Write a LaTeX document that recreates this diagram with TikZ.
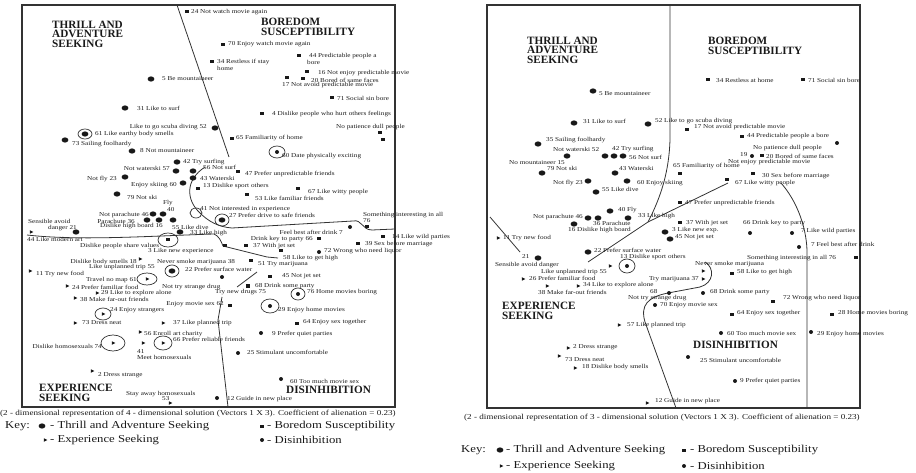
\documentclass[tikz,border=0pt]{standalone}
\usepackage{fontspec}
\setmainfont{Liberation Serif}
\usetikzlibrary{shapes.geometric}
% marker and label helpers
\newcommand{\pmark}[3]{\node[#1] (#2) at (#3) {};}
\newcommand{\tlab}[5][lbl]{\node[#1,anchor=#4] (#2) at (#3) {\scalebox{1.2}[1]{#5}};}
\begin{document}
\begin{tikzpicture}[x=1pt,y=-1pt,
  tas/.style={ellipse, fill=black!90, minimum width=6.8pt, minimum height=5.2pt, inner sep=0pt},
  bs/.style={rectangle, fill=black!90, minimum width=4pt, minimum height=3pt, inner sep=0pt},
  es/.style={isosceles triangle, isosceles triangle apex angle=70, isosceles triangle stretches, fill=black!90, minimum height=3.5pt, minimum width=3.5pt, inner sep=0pt},
  dis/.style={circle, fill=black!90, minimum size=4pt, inner sep=0pt},
  lbl/.style={font=\fontsize{6}{6}\selectfont, inner sep=0pt, text=black!90},
  captxt/.style={font=\fontsize{7.6}{8}\selectfont, inner sep=0pt, text=black!90},
  keyl/.style={font=\fontsize{10.6}{12}\selectfont, inner sep=0pt, text=black!90},
  head/.style={font=\fontsize{11.2}{9.4}\selectfont\bfseries, align=left, inner sep=0pt, anchor=north west, text=black!90},
  panelframe/.style={line width=1.2pt, draw=black!80},
  bound/.style={line width=0.8pt, draw=black!80},
  ring/.style={line width=0.7pt, draw=black!80}]
\useasboundingbox (0,0) rectangle (916,473);

%% ================= left panel: 4-dimensional solution =================
\draw[panelframe] (22,5) rectangle (395,407);
\node[head] (LhTAS) at (52,21) {THRILL AND\\ADVENTURE\\SEEKING};
\node[head] (LhBS) at (261,18) {BOREDOM\\SUSCEPTIBILITY};
\node[head] (LhES) at (39,384) {EXPERIENCE\\SEEKING};
\node[head] (LhDis) at (286,386) {DISINHIBITION};

% region boundaries
\draw[bound] (177,5) -- (229,157);
\draw[bound] (205,167) .. controls (185,180) and (186,200) .. (200,213)
  .. controls (208,221) and (218,227) .. (232,228) -- (353,221)
  .. controls (362,219) and (362,230) .. (372,230) -- (395,229);
\draw[bound] (27,235) .. controls (80,241) and (150,236) .. (214,234)
  .. controls (219,236) and (221,241) .. (223,246) -- (267,257) -- (278,258);
\draw[bound] (237,287) -- (257,272);
\draw[bound] (222,297) -- (218,320) -- (228,407);

% items
\pmark{bs}{La1}{187,12} \tlab{Lt1}{191,12}{west}{24 Not watch movie again}
\pmark{bs}{La2}{223,45} \tlab{Lt2}{228,44}{west}{70 Enjoy watch movie again}
\pmark{bs}{La3}{212,62} \tlab{Lt3}{217,62}{west}{34 Restless if stay} \tlab{Lt3b}{217,68}{west}{home}
\pmark{bs}{La4}{299,56} \tlab{Lt4}{309,56}{west}{44 Predictable people a} \tlab{Lt4b}{307,62}{west}{bore}
\pmark{tas}{La5}{151,79} \tlab{Lt5}{162,79}{west}{5 Be mountaineer}
\pmark{bs}{La6}{307,72} \tlab{Lt6}{318,73}{west}{16 Not enjoy predictable movie}
\pmark{bs}{La7}{287,78} \pmark{bs}{La8}{303,79} \tlab{Lt8}{311,80}{west}{20 Bored of same faces}
\tlab{Lt7}{282,85}{west}{17 Not avoid predictable movie}
\pmark{bs}{La9}{332,98} \tlab{Lt9}{337,98}{west}{71 Social sin bore}
\pmark{tas}{La10}{125,108} \tlab{Lt10}{137,108}{west}{31 Like to surf}
\pmark{bs}{La11}{262,114} \tlab{Lt11}{272,114}{west}{4 Dislike people who hurt others feelings}
\tlab{Lt12}{207,127}{east}{Like to go scuba diving 52} \pmark{tas}{La12}{215,128}
\tlab{Lt13}{336,127}{west}{No patience dull people} \pmark{bs}{La13}{380,133} \pmark{bs}{La14}{383,140}
\pmark{tas}{La15}{85,134} \draw[ring] (La15) ellipse [x radius=7pt, y radius=5pt];
\tlab{Lt15}{95,134}{west}{61 Like earthy body smells}
\pmark{tas}{La16}{65,140} \tlab{Lt16}{72,144}{west}{73 Sailing foolhardy}
\pmark{bs}{La17}{232,139} \tlab{Lt17}{236,138}{west}{65 Familiarity of home}
\pmark{tas}{La18}{132,151} \tlab{Lt18}{140,151}{west}{8 Not mountaineer}
\pmark{dis}{La19}{277,152} \draw[ring] (La19) ellipse [x radius=8pt, y radius=6pt];
\tlab{Lt19}{282,156}{west}{60 Date physically exciting}
\pmark{tas}{La20}{177,162} \tlab{Lt20}{183,162}{west}{42 Try surfing}
\tlab{Lt21}{170,168}{east}{Not waterski 57} \pmark{tas}{La21}{176,171} \pmark{tas}{La22}{193,171}
\tlab{Lt22}{203,167}{west}{56 Not surf}
\tlab{Lt23}{117,179}{east}{Not fly 23} \pmark{tas}{La23}{125,177}
\pmark{tas}{La24}{193,178} \tlab{Lt24}{200,178}{west}{43 Waterski}
\tlab{Lt25}{177,185}{east}{Enjoy skiing 60} \pmark{tas}{La25}{183,183}
\pmark{bs}{La26}{198,189} \tlab{Lt26}{203,186}{west}{13 Dislike sport others}
\pmark{bs}{La27}{238,172} \tlab{Lt27}{245,174}{west}{47 Prefer unpredictable friends}
\pmark{bs}{La28}{298,189} \tlab{Lt28}{308,192}{west}{67 Like witty people}
\pmark{bs}{La29}{247,195} \tlab{Lt29}{255,198}{west}{53 Like familiar friends}
\pmark{tas}{La30}{117,194} \tlab{Lt30}{127,197}{west}{79 Not ski}
\tlab{Lt31}{163,203}{west}{Fly} \tlab{Lt31b}{167,210}{west}{40}
\pmark{tas}{La31}{153,214} \pmark{tas}{La32}{163,214} \pmark{tas}{La33}{147,220}
\pmark{tas}{La34}{159,220} \pmark{tas}{La35}{173,220}
\tlab{Lt32}{149,215}{east}{Not parachute 46}
\tlab{Lt33}{135,221}{east}{Parachute 36}
\tlab{Lt34}{163,226}{east}{Dislike high board 16}
\tlab{Lt35}{172,227}{west}{55 Like dive}
\pmark{tas}{La36}{180,232} \tlab{Lt36}{190,233}{west}{33 Like high}
\pmark{bs}{La37}{168,240} \draw[ring] (La37) ellipse [x radius=10pt, y radius=7pt];
\tlab{Lt37}{28,221}{west}{Sensible avoid} \tlab{Lt37b}{48,228}{west}{danger 21}
\pmark{es}{La38}{31,232} \pmark{tas}{La39}{76,232}
\tlab{Lt39}{27,239}{west}{44 Like modern art}
\tlab{Lt40}{80,246}{west}{Dislike people share values}
\tlab{Lt41}{148,251}{west}{3 Like new experience}
\tlab{Lt42}{200,209}{west}{41 Not interested in experience}
\draw[ring] (196,213) ellipse [x radius=6pt, y radius=5pt];
\pmark{tas}{La43}{222,220} \draw[ring] (La43) ellipse [x radius=7pt, y radius=6pt];
\tlab{Lt43}{229,215}{west}{27 Prefer drive to safe friends}
\tlab{Lt44}{363,215}{west}{Something interesting in all} \tlab{Lt44b}{363,221}{west}{76}
\pmark{bs}{La44}{367,227}
\tlab{Lt45}{343,232}{east}{Feel best after drink 7} \pmark{dis}{La45}{350,227}
\tlab{Lt46}{313,239}{east}{Drink key to party 66} \pmark{bs}{La46}{319,239}
\pmark{bs}{La47}{383,237} \tlab{Lt47}{392,237}{west}{14 Like wild parties}
\pmark{bs}{La48}{246,246} \tlab{Lt48}{253,246}{west}{37 With jet set} \pmark{bs}{La48b}{225,246}
\pmark{bs}{La49}{358,244} \tlab{Lt49}{365,244}{west}{39 Sex before marriage}
\pmark{bs}{La50}{281,251} \tlab{Lt50}{283,258}{west}{58 Like to get high}
\pmark{dis}{La51}{319,252} \tlab{Lt51}{324,251}{west}{72 Wrong who need liquor}
\tlab{Lt52}{137,262}{east}{Dislike body smells 18} \pmark{es}{La52}{140,259}
\tlab{Lt53}{157,262}{west}{Never smoke marijuana 38}
\pmark{bs}{La54}{251,261} \tlab{Lt54}{258,264}{west}{51 Try marijuana}
\tlab{Lt55}{155,267}{east}{Like unplanned trip 55} \pmark{tas}{La55}{172,271}
\draw[ring] (La55) ellipse [x radius=7pt, y radius=6pt];
\tlab{Lt56}{185,269}{west}{22 Prefer surface water}
\pmark{es}{La57}{30,271} \tlab{Lt57}{36,274}{west}{11 Try new food}
\tlab{Lt58}{137,280}{east}{Travel no map 61} \pmark{es}{La58}{147,279}
\draw[ring] (La58) ellipse [x radius=10pt, y radius=6pt];
\pmark{es}{La59}{67,286} \tlab{Lt59}{72,287}{west}{24 Prefer familiar food}
\pmark{es}{La60}{97,293} \tlab{Lt60}{101,293}{west}{29 Like to explore alone}
\pmark{es}{La61}{75,298} \tlab{Lt61}{80,299}{west}{38 Make far-out friends}
\tlab{Lt62}{162,287}{west}{Not try strange drug}
\pmark{dis}{La63}{222,277}
\pmark{bs}{La64}{270,277} \tlab{Lt64}{282,276}{west}{45 Not jet set}
\pmark{bs}{La65}{248,286} \tlab{Lt65}{255,286}{west}{68 Drink some party}
\tlab{Lt66}{215,292}{west}{Try new drugs 75}
\pmark{dis}{La67}{298,294} \draw[ring] (La67) ellipse [x radius=7pt, y radius=6pt];
\tlab{Lt67}{307,292}{west}{76 Home movies boring}
\tlab{Lt68}{224,304}{east}{Enjoy movie sex 62} \pmark{bs}{La68}{230,305}
\pmark{dis}{La69}{270,306} \draw[ring] (La69) ellipse [x radius=9pt, y radius=7pt];
\tlab{Lt69}{278,310}{west}{29 Enjoy home movies}
\pmark{bs}{La70}{297,323} \tlab{Lt70}{303,322}{west}{64 Enjoy sex together}
\pmark{dis}{La71}{261,333} \tlab{Lt71}{272,334}{west}{9 Prefer quiet parties}
\pmark{dis}{La72}{238,353} \tlab{Lt72}{247,352}{west}{25 Stimulant uncomfortable}
\pmark{dis}{La73}{281,379} \tlab{Lt73}{290,381}{west}{60 Too much movie sex}
\pmark{dis}{La74}{217,398} \tlab{Lt74}{227,399}{west}{12 Guide in new place}
\pmark{es}{La75}{103,314} \draw[ring] (La75) ellipse [x radius=8pt, y radius=6pt];
\tlab{Lt75}{110,310}{west}{24 Enjoy strangers}
\pmark{es}{La76}{75,323} \tlab{Lt76}{82,323}{west}{73 Dress neat}
\pmark{es}{La77}{163,323} \tlab{Lt77}{173,323}{west}{37 Like planned trip}
\pmark{es}{La78}{140,332} \tlab{Lt78}{144,334}{west}{56 Enroll art charity}
\tlab{Lt79}{102,346}{east}{Dislike homosexuals 74} \pmark{es}{La79}{113,343}
\draw[ring] (La79) ellipse [x radius=12pt, y radius=8pt];
\pmark{es}{La80}{143,343} \tlab{Lt80}{137,352}{west}{41} \tlab{Lt80b}{137,357}{west}{Meet homosexuals}
\pmark{es}{La81}{163,343} \draw[ring] (La81) ellipse [x radius=9pt, y radius=7pt];
\tlab{Lt81}{173,339}{west}{66 Prefer reliable friends}
\pmark{es}{La82}{92,371} \tlab{Lt82}{98,375}{west}{2 Dress strange}
\tlab{Lt83}{126,394}{west}{Stay away homosexuals} \tlab{Lt83b}{162,399}{west}{53}
\pmark{es}{La83}{170,403}

% caption and key
\tlab[captxt]{Lcap}{0,414}{west}{(2 - dimensional representation of 4 - dimensional solution (Vectors 1 X 3). Coefficient of alienation = 0.23)}
\tlab[keyl]{Lkey}{5,426}{west}{Key:}
\pmark{tas}{Lk1}{42,426} \tlab[keyl]{Lk1t}{50,426}{west}{- Thrill and Adventure Seeking}
\pmark{es}{Lk2}{45,440} \tlab[keyl]{Lk2t}{50,440}{west}{- Experience Seeking}
\pmark{bs}{Lk3}{262,426} \tlab[keyl]{Lk3t}{267,426}{west}{- Boredom Susceptibility}
\pmark{dis}{Lk4}{262,440} \tlab[keyl]{Lk4t}{267,440}{west}{- Disinhibition}

%% ================= right panel: 3-dimensional solution =================
\draw[panelframe] (487,5) rectangle (860,408);
\node[head] (RhTAS) at (527,37) {THRILL AND\\ADVENTURE\\SEEKING};
\node[head] (RhBS) at (708,37) {BOREDOM\\SUSCEPTIBILITY};
\node[head] (RhES) at (502,302) {EXPERIENCE\\SEEKING};
\node[head] (RhDis) at (693,341) {DISINHIBITION};

% region boundaries
\draw[bound] (670,5) -- (670,140) .. controls (669,170) and (662,195) .. (648,222) -- (588,262);
\draw[bound] (648,222) -- (728,183);
\draw[bound] (781,183) .. controls (796,200) and (806,225) .. (807,250) -- (807,408);
\draw[bound] (676,408) -- (645,322) .. controls (640,305) and (648,297) .. (668,293) -- (700,287)
  .. controls (714,283) and (715,268) .. (705,262);
\draw[bound] (490,217) -- (520,252);

% items
\pmark{tas}{Ra1}{593,91} \tlab{Rt1}{599,94}{west}{5 Be mountaineer}
\pmark{bs}{Ra2}{708,80} \tlab{Rt2}{716,80}{west}{34 Restless at home}
\pmark{bs}{Ra3}{803,80} \tlab{Rt3}{808,80}{west}{71 Social sin bore}
\pmark{tas}{Ra4}{574,123} \tlab{Rt4}{583,121}{west}{31 Like to surf}
\pmark{tas}{Ra5}{648,124} \tlab{Rt5}{655,121}{west}{52 Like to go scuba diving}
\pmark{bs}{Ra6}{687,130} \tlab{Rt6}{694,127}{west}{17 Not avoid predictable movie}
\pmark{tas}{Ra7}{538,144} \tlab{Rt7}{546,140}{west}{35 Sailing foolhardy}
\tlab{Rt8}{553,149}{west}{Not waterski 52}
\tlab{Rt9}{612,149}{west}{42 Try surfing}
\pmark{tas}{Ra10}{567,156} \pmark{tas}{Ra11}{605,156} \pmark{tas}{Ra12}{614,156}
\pmark{tas}{Ra13}{623,156} \tlab{Rt13}{629,157}{west}{56 Not surf}
\pmark{bs}{Ra14}{742,137} \tlab{Rt14}{747,136}{west}{44 Predictable people a bore}
\tlab{Rt15}{753,148}{west}{No patience dull people} \pmark{dis}{Ra15}{837,143}
\tlab{Rt16}{740,155}{west}{19} \pmark{dis}{Ra16}{752,156} \pmark{bs}{Ra17}{762,156}
\tlab{Rt17}{766,156}{west}{20 Bored of same faces}
\tlab{Rt18}{728,162}{west}{Not enjoy predictable movie}
\tlab{Rt19}{673,166}{west}{65 Familiarity of home} \pmark{bs}{Ra19}{680,174}
\pmark{bs}{Ra20}{753,174} \tlab{Rt20}{762,176}{west}{30 Sex before marriage}
\pmark{bs}{Ra21}{727,180} \tlab{Rt21}{735,183}{west}{67 Like witty people}
\tlab{Rt22}{565,163}{east}{No mountaineer 15}
\pmark{tas}{Ra23}{542,173} \tlab{Rt23}{547,168}{west}{79 Not ski}
\pmark{tas}{Ra24}{615,173} \tlab{Rt24}{619,168}{west}{43 Waterski}
\tlab{Rt25}{583,183}{east}{Not fly 23} \pmark{tas}{Ra25}{588,181}
\pmark{tas}{Ra26}{627,181} \tlab{Rt26}{637,183}{west}{60 Enjoy skiing}
\pmark{tas}{Ra27}{596,192} \tlab{Rt27}{602,189}{west}{55 Like dive}
\pmark{tas}{Ra28}{610,211} \tlab{Rt28}{618,210}{west}{40 Fly}
\pmark{bs}{Ra29}{680,203} \tlab{Rt29}{685,203}{west}{47 Prefer unpredictable friends}
\tlab{Rt30}{583,217}{east}{Not parachute 46} \pmark{tas}{Ra30}{588,218} \pmark{tas}{Ra31}{598,218}
\pmark{tas}{Ra32}{628,218} \tlab{Rt32}{638,216}{west}{33 Like high}
\tlab{Rt33}{593,223}{west}{36 Parachute}
\pmark{tas}{Ra34}{574,224} \tlab{Rt34}{568,230}{west}{16 Dislike high board}
\pmark{bs}{Ra35}{680,223} \tlab{Rt35}{686,223}{west}{37 With jet set}
\pmark{tas}{Ra36}{665,232} \tlab{Rt36}{672,230}{west}{3 Like new exp.}
\pmark{tas}{Ra37}{670,239} \tlab{Rt37}{675,237}{west}{45 Not jet set}
\tlab{Rt38}{743,223}{west}{66 Drink key to party} \pmark{dis}{Ra38}{750,233}
\pmark{dis}{Ra39}{792,233} \tlab{Rt39}{801,231}{west}{7 Like wild parties}
\pmark{dis}{Ra40}{799,247} \tlab{Rt40}{811,244}{west}{7 Feel best after drink}
\pmark{es}{Ra41}{498,238} \tlab{Rt41}{503,238}{west}{11 Try new food}
\tlab{Rt42}{522,257}{west}{21} \pmark{tas}{Ra42}{538,258}
\tlab{Rt42b}{495,265}{west}{Sensible avoid danger}
\pmark{tas}{Ra43}{588,252} \tlab{Rt43}{594,250}{west}{22 Prefer surface water}
\tlab{Rt44}{620,257}{west}{13 Dislike sport others}
\tlab{Rt45}{747,258}{west}{Something interesting in all 76} \pmark{bs}{Ra45}{856,258}
\tlab{Rt46}{607,272}{east}{Like unplanned trip 55} \pmark{es}{Ra46}{610,266}
\pmark{dis}{Ra47}{627,266} \draw[ring] (Ra47) ellipse [x radius=8pt, y radius=7pt];
\tlab{Rt48}{695,264}{west}{Never smoke marijuana}
\pmark{bs}{Ra49}{732,274} \tlab{Rt49}{737,272}{west}{58 Like to get high}
\tlab{Rt50}{699,279}{east}{Try marijuana 37} \pmark{es}{Ra50}{703,279} \pmark{es}{Ra50b}{703,271}
\pmark{es}{Ra51}{523,279} \tlab{Rt51}{529,278}{west}{26 Prefer familiar food}
\pmark{es}{Ra52}{547,286} \pmark{es}{Ra53}{578,286} \tlab{Rt53}{583,285}{west}{34 Like to explore alone}
\tlab{Rt54}{538,292}{west}{38 Make far-out friends}
\tlab{Rt55}{650,292}{west}{68} \pmark{dis}{Ra55}{669,293}
\tlab{Rt56}{628,298}{west}{Not try strange drug}
\pmark{dis}{Ra57}{703,293} \tlab{Rt57}{710,292}{west}{68 Drink some party}
\pmark{bs}{Ra58}{773,301} \tlab{Rt58}{783,298}{west}{72 Wrong who need liquor}
\pmark{dis}{Ra59}{655,305} \tlab{Rt59}{660,305}{west}{70 Enjoy movie sex}
\pmark{es}{Ra60}{619,325} \tlab{Rt60}{627,325}{west}{57 Like planned trip}
\pmark{bs}{Ra61}{732,314} \tlab{Rt61}{737,313}{west}{64 Enjoy sex together}
\pmark{bs}{Ra62}{832,314} \tlab{Rt62}{838,313}{west}{28 Home movies boring}
\pmark{dis}{Ra63}{721,333} \tlab{Rt63}{727,333}{west}{60 Too much movie sex}
\pmark{dis}{Ra64}{811,332} \tlab{Rt64}{817,334}{west}{29 Enjoy home movies}
\pmark{dis}{Ra65}{688,357} \tlab{Rt65}{700,360}{west}{25 Stimulant uncomfortable}
\pmark{es}{Ra66}{568,348} \tlab{Rt66}{573,347}{west}{2 Dress strange}
\pmark{es}{Ra67}{559,356} \tlab{Rt67}{565,360}{west}{73 Dress neat}
\pmark{es}{Ra68}{575,368} \tlab{Rt68}{582,367}{west}{18 Dislike body smells}
\pmark{dis}{Ra69}{735,381} \tlab{Rt69}{740,381}{west}{9 Prefer quiet parties}
\pmark{es}{Ra70}{647,403} \tlab{Rt70}{655,401}{west}{12 Guide in new place}

% caption and key
\tlab[captxt]{Rcap}{464,418}{west}{(2 - dimensional representation of 3 - dimensional solution (Vectors 1 X 3). Coefficient of alienation = 0.23)}
\tlab[keyl]{Rkey}{461,450}{west}{Key:}
\pmark{tas}{Rk1}{500,450} \tlab[keyl]{Rk1t}{506,450}{west}{- Thrill and Adventure Seeking}
\pmark{es}{Rk2}{501,466} \tlab[keyl]{Rk2t}{506,466}{west}{- Experience Seeking}
\pmark{bs}{Rk3}{684,450} \tlab[keyl]{Rk3t}{690,450}{west}{- Boredom Susceptibility}
\pmark{dis}{Rk4}{684,466} \tlab[keyl]{Rk4t}{690,466}{west}{- Disinhibition}
\end{tikzpicture}
\end{document}
